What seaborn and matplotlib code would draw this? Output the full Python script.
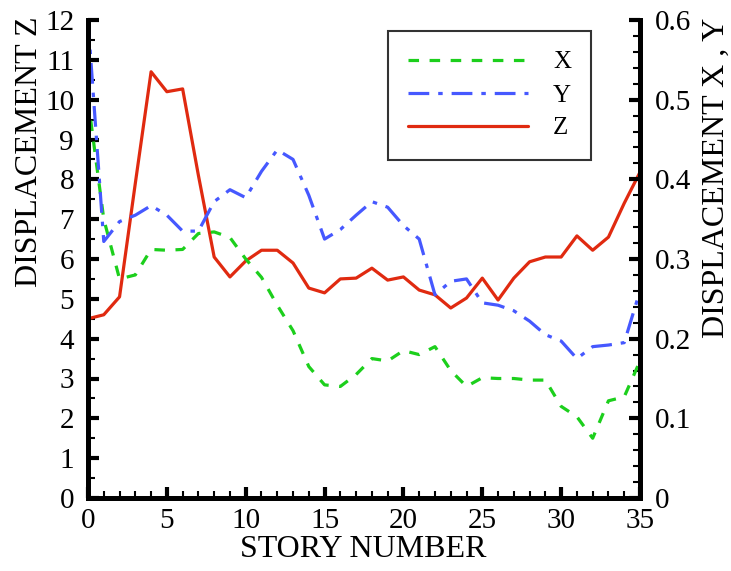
import numpy as np
import pandas as pd
import matplotlib
matplotlib.use("Agg")
import matplotlib.pyplot as plt
from matplotlib.ticker import MultipleLocator
import seaborn as sns

story = list(range(36))
disp_x = [0.500, 0.350, 0.275, 0.280, 0.312, 0.311, 0.312, 0.332, 0.334, 0.327,
          0.300, 0.277, 0.242, 0.210, 0.165, 0.142, 0.140, 0.155, 0.175, 0.172,
          0.185, 0.180, 0.190, 0.160, 0.140, 0.151, 0.150, 0.150, 0.148, 0.148,
          0.115, 0.102, 0.075, 0.122, 0.127, 0.172]
disp_y = [0.600, 0.322, 0.347, 0.355, 0.367, 0.355, 0.335, 0.335, 0.372, 0.387,
          0.377, 0.410, 0.437, 0.425, 0.380, 0.325, 0.337, 0.355, 0.372, 0.365,
          0.342, 0.325, 0.255, 0.272, 0.275, 0.245, 0.242, 0.235, 0.222, 0.205,
          0.197, 0.175, 0.190, 0.192, 0.195, 0.260]
disp_z = [4.50, 4.60, 5.05, 7.90, 10.70, 10.20, 10.27, 8.10, 6.05, 5.55,
          5.95, 6.22, 6.22, 5.90, 5.27, 5.15, 5.50, 5.52, 5.77, 5.47,
          5.55, 5.22, 5.10, 4.77, 5.02, 5.52, 4.97, 5.52, 5.93, 6.05,
          6.05, 6.58, 6.22, 6.55, 7.40, 8.18]
right_ticks = [0, 0.1, 0.2, 0.3, 0.4, 0.5, 0.6]
right_ticklabels = ["0", "0.1", "0.2", "0.3", "0.4", "0.5", "0.6"]

df = pd.DataFrame({"story": story, "x": disp_x, "y": disp_y, "z": disp_z})

sns.set_style("ticks")
plt.rcParams["font.family"] = ["Liberation Serif", "DejaVu Serif"]
plt.rcParams.update({"text.color": "black", "axes.labelcolor": "black",
                     "xtick.color": "black", "ytick.color": "black",
                     "axes.edgecolor": "black"})

fig = plt.figure(figsize=(7.31, 5.71), dpi=100)
ax = fig.add_axes([88 / 731, 1 - 498 / 571, (640 - 88) / 731, (498 - 20) / 571])
ax2 = ax.twinx()

c_green = "#1ccf1c"
c_blue = "#4658ff"
c_red = "#e02a10"

sns.lineplot(data=df, x="story", y="z", ax=ax, color=c_red, lw=2.3, label="Z", legend=False)
sns.lineplot(data=df, x="story", y="x", ax=ax2, color=c_green, lw=2.3, label="X", legend=False)
sns.lineplot(data=df, x="story", y="y", ax=ax2, color=c_blue, lw=2.3, label="Y", legend=False)
ax2.lines[0].set_linestyle((0, (3.3, 3.3)))
ax2.lines[1].set_linestyle((0, (6.5, 2.8, 1.4, 2.8)))

ax.set_xlim(0, 35)
ax.set_ylim(0, 12)
ax2.set_ylim(0, 0.6)

ax.xaxis.set_major_locator(MultipleLocator(5))
ax.xaxis.set_minor_locator(MultipleLocator(1))
ax.yaxis.set_major_locator(MultipleLocator(1))
ax.yaxis.set_minor_locator(MultipleLocator(0.5))
ax2.set_yticks(right_ticks)
ax2.set_yticklabels(right_ticklabels)
ax2.yaxis.set_minor_locator(MultipleLocator(0.02))

for a in (ax, ax2):
    a.spines["top"].set_visible(False)
    for s in ("left", "right", "bottom"):
        a.spines[s].set_linewidth(3.5)
        a.spines[s].set_color("black")
    a.tick_params(which="major", direction="in", length=8, width=3, labelsize=21,
                  color="black", labelcolor="black")
    a.tick_params(which="minor", direction="in", length=5, width=1.5, color="black")
    a.grid(False)
ax.tick_params(axis="y", right=False, pad=10)
ax.tick_params(axis="x", top=False, pad=7)
ax2.tick_params(axis="y", left=False, pad=11)

ax.set_xlabel("STORY NUMBER", fontsize=23, color="black")
ax.set_ylabel("DISPLACEMENT Z", fontsize=23, color="black")
ax2.set_ylabel("DISPLACEMENT X , Y", fontsize=23, rotation=90, color="black")
ax.xaxis.set_label_coords(0.498, -0.078)
ax.yaxis.set_label_coords(-0.08, 0.724)
ax2.yaxis.set_label_coords(1.112, 0.669)

handles = [ax2.lines[0], ax2.lines[1], ax.lines[0]]
leg = ax2.legend(handles, ["X", "Y", "Z"], loc="upper left",
                 bbox_to_anchor=((388 - 88) / 552, 1 - (31 - 20) / 478),
                 frameon=True, fancybox=False, fontsize=18, handlelength=4.8,
                 borderpad=0.8, labelspacing=0.42, handletextpad=1.0, borderaxespad=0)
leg.get_frame().set_edgecolor("black")
leg.get_frame().set_linewidth(1.5)
for t in leg.get_texts():
    t.set_color("black")

fig.savefig("out.png", dpi=100)
